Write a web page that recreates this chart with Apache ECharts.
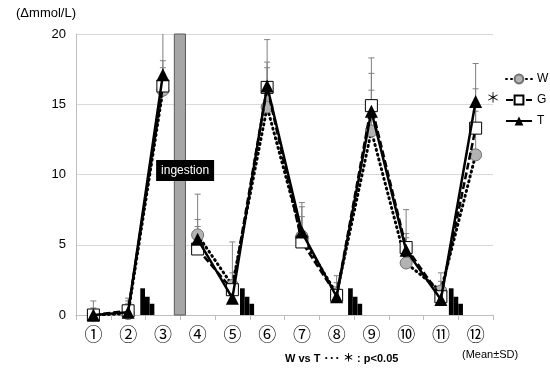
<!DOCTYPE html>
<html><head><meta charset="utf-8">
<script src="https://cdn.jsdelivr.net/npm/echarts@6/dist/echarts.min.js"></script>
<style>html,body{margin:0;padding:0;background:#fff}#c{width:550px;height:373px}</style>
</head><body><div id="c"></div>
<script>
var categories = ['①','②','③','④','⑤','⑥','⑦','⑧','⑨','⑩','⑪','⑫'];
var seriesW = [0.0, 0.1, 16.0, 5.7, 2.1, 14.8, 5.6, 1.5, 13.1, 3.7, 1.7, 11.4];
var seriesG = [0.0, 0.3, 16.3, 4.7, 1.8, 16.2, 5.2, 1.4, 14.9, 4.8, 1.3, 13.3];
var seriesT = [0.0, 0.2, 17.1, 5.4, 1.2, 16.3, 5.9, 1.3, 14.5, 4.6, 1.1, 15.2];
var topW = [1.0, 1.0, 17.6, 8.6, 5.2, 17.6, 7.7, 2.8, 16.0, 7.5, 3.0, 14.5];
var topG = [0.5, 1.2, 18.1, 6.8, 3.0, 19.6, 7.0, 2.3, 18.3, 5.8, 2.4, 16.1];
var topT = [0.3, 0.8, 21.0, 6.3, 2.5, 18.0, 8.0, 2.0, 17.2, 5.5, 2.0, 17.9];
var yTicks = [0, 5, 10, 15, 20];
var stairStart = [2.35, 5.22, 8.33, 11.23];
var stairHeights = [1.9, 1.3, 0.8];
var ingestRange = [3.33, 3.65];
var ingestLabel = 'ingestion';
var breakAfter = 3; // line is broken between ③ and ④

var chart = echarts.init(document.getElementById('c'));

function part(arr, before) {
  return arr.map(function (v, i) { return (before ? i < breakAfter : i >= breakAfter) ? v : null; });
}
function errData(mean, top) {
  return mean.map(function (v, i) { return [i, v, top[i]]; });
}
function errRender(params, api) {
  var x = api.value(0);
  var p0 = api.coord([x, api.value(1)]);
  var p1 = api.coord([x, Math.min(api.value(2), 20)]);
  var st = { stroke: '#808080', lineWidth: 1 };
  var children = [{ type: 'line', shape: { x1: p0[0], y1: p0[1], x2: p1[0], y2: p1[1] }, style: st }];
  if (api.value(2) <= 20) {
    children.push({ type: 'line', shape: { x1: p1[0] - 3, y1: p1[1], x2: p1[0] + 3, y2: p1[1] }, style: st });
  }
  return { type: 'group', children: children };
}

var stairData = stairStart.map(function (s) { return [s]; });
var stepW = 0.135;

var styleW = {
  symbol: 'circle', symbolSize: 12,
  itemStyle: { color: '#b3b3b3', borderColor: '#6e6e6e', borderWidth: 1 },
  lineStyle: { color: '#000', width: 3, type: [1, 4], cap: 'round' }, z: 3
};
var styleG = {
  symbol: 'rect', symbolSize: 12,
  itemStyle: { color: '#fff', borderColor: '#000', borderWidth: 1 },
  lineStyle: { color: '#000', width: 2.5, type: [7, 3] }, z: 4
};
var styleT = {
  symbol: 'triangle', symbolSize: 13,
  itemStyle: { color: '#000' },
  lineStyle: { color: '#000', width: 2.5 }, z: 5
};
function lineSeries(name, arr, st) {
  return [true, false].map(function (b) {
    return Object.assign({ name: name, type: 'line', data: part(arr, b), connectNulls: false }, st);
  });
}

var option = {
  animation: false,
  textStyle: { fontFamily: 'Liberation Sans, Arial, sans-serif' },
  grid: { left: 76, right: 57, top: 34, bottom: 58 },
  legend: {
    orient: 'vertical', left: 500, top: 68, itemGap: 9,
    itemWidth: 26, itemHeight: 11,
    textStyle: { fontSize: 12, color: '#000' },
    data: ['W', 'G', 'T']
  },
  xAxis: [{
    type: 'category', data: categories, boundaryGap: true,
    axisLine: { lineStyle: { color: '#bfbfbf' } },
    axisTick: { show: true, length: 5, lineStyle: { color: '#bfbfbf' } },
    axisLabel: { fontFamily: 'Noto Sans CJK JP', fontSize: 18, color: '#000', margin: 10 },
    splitLine: { show: false }
  }, {
    type: 'value', min: 0.5, max: 12.5, show: false
  }],
  yAxis: {
    type: 'value', min: 0, max: 20, interval: 5,
    name: '(Δmmol/L)', nameLocation: 'end', nameGap: 14,
    nameTextStyle: { fontSize: 13, color: '#000', align: 'right' },
    axisLine: { show: true, lineStyle: { color: '#bfbfbf' } },
    axisTick: { show: false },
    axisLabel: { fontSize: 13, color: '#000', margin: 10 },
    splitLine: { lineStyle: { color: '#d9d9d9' } }
  },
  series: [
    {
      type: 'custom', xAxisIndex: 1, z: 1,
      data: [ingestRange],
      renderItem: function (params, api) {
        var a = api.coord([ingestRange[0], 20]);
        var b = api.coord([ingestRange[1], 0]);
        return { type: 'rect', shape: { x: a[0], y: a[1], width: b[0] - a[0], height: b[1] - a[1] },
          style: { fill: '#a6a6a6', stroke: '#595959', lineWidth: 1 } };
      }
    },
    {
      type: 'custom', xAxisIndex: 1, z: 1,
      data: stairData,
      renderItem: function (params, api) {
        var s = api.value(0);
        var children = stairHeights.map(function (h, k) {
          var a = api.coord([s + k * stepW, h]);
          var b = api.coord([s + (k + 1) * stepW, 0]);
          return { type: 'rect', shape: { x: a[0], y: a[1], width: b[0] - a[0], height: b[1] - a[1] },
            style: { fill: '#000' } };
        });
        return { type: 'group', children: children };
      }
    },
    { type: 'custom', z: 2, data: errData(seriesW, topW), renderItem: errRender },
    { type: 'custom', z: 2, data: errData(seriesG, topG), renderItem: errRender },
    { type: 'custom', z: 2, data: errData(seriesT, topT), renderItem: errRender }
  ].concat(lineSeries('W', seriesW, styleW), lineSeries('G', seriesG, styleG), lineSeries('T', seriesT, styleT), [
    {
      type: 'custom', xAxisIndex: 1, z: 10,
      data: [[3.64, 10.25]],
      renderItem: function (params, api) {
        var p = api.coord([api.value(0), api.value(1)]);
        return { type: 'group', children: [
          { type: 'rect', shape: { x: p[0] - 29, y: p[1] - 11, width: 58, height: 21 }, style: { fill: '#000' } },
          { type: 'text', style: { text: ingestLabel, x: p[0], y: p[1], fill: '#fff', fontSize: 12,
            fontFamily: 'Liberation Sans, Arial, sans-serif', align: 'center', verticalAlign: 'middle' } }
        ] };
      }
    }
  ]),
  graphic: [
    { type: 'text', left: 486, top: 90, style: { text: '＊', fontSize: 14, fill: '#000', fontFamily: 'Noto Sans CJK JP' } },
    { type: 'text', left: 285, top: 353, style: { text: 'W vs T ･･･ ＊ : p<0.05', fontSize: 11, fontWeight: 'bold', fill: '#000', fontFamily: 'Liberation Sans, Noto Sans CJK JP, sans-serif' } },
    { type: 'text', left: 462, top: 349, style: { text: '(Mean±SD)', fontSize: 11, fill: '#000', fontFamily: 'Liberation Sans, Arial, sans-serif' } }
  ]
};
chart.setOption(option);
</script>
</body></html>
